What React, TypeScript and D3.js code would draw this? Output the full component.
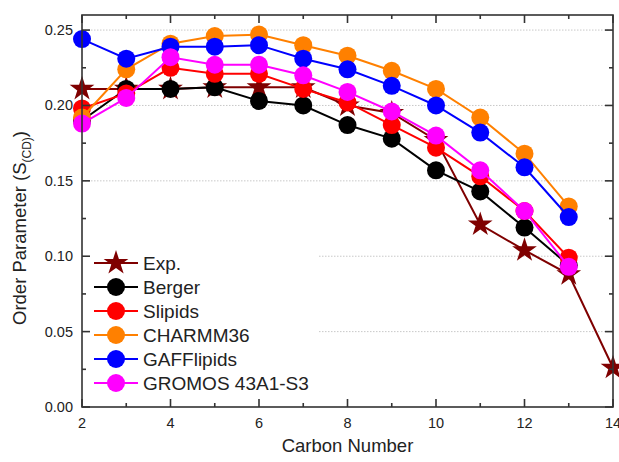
import React from "react";
import * as d3 from "d3";

const carbons = [2, 3, 4, 5, 6, 7, 8, 9, 10, 11, 12, 13, 14];
const carbonsSim = [2, 3, 4, 5, 6, 7, 8, 9, 10, 11, 12, 13];

const expValues = [0.211, 0.211, 0.211, 0.212, 0.212, 0.212, 0.200, 0.195, 0.177, 0.121, 0.104, 0.088, 0.026];
const bergerValues = [0.190, 0.211, 0.211, 0.212, 0.203, 0.200, 0.187, 0.178, 0.157, 0.143, 0.119, 0.094];
const slipidsValues = [0.198, 0.208, 0.225, 0.221, 0.221, 0.211, 0.202, 0.187, 0.172, 0.153, 0.130, 0.099];
const charmmValues = [0.192, 0.224, 0.241, 0.246, 0.247, 0.240, 0.233, 0.223, 0.211, 0.192, 0.168, 0.133];
const gaffValues = [0.244, 0.231, 0.239, 0.239, 0.240, 0.231, 0.224, 0.213, 0.200, 0.182, 0.159, 0.126];
const gromosValues = [0.188, 0.205, 0.232, 0.227, 0.227, 0.220, 0.209, 0.196, 0.180, 0.157, 0.130, 0.093];

const seriesNames = ["Exp.", "Berger", "Slipids", "CHARMM36", "GAFFlipids", "GROMOS 43A1-S3"];
const seriesColors = ["#7f0000", "#000000", "#ff0000", "#ff8000", "#0000ff", "#ff00ff"];

const xTicks = [2, 4, 6, 8, 10, 12, 14];
const xMinorTicks = [3, 5, 7, 9, 11, 13];
const yTicks = [0.0, 0.05, 0.1, 0.15, 0.2, 0.25];
const yMinorTicks = [0.025, 0.075, 0.125, 0.175, 0.225];

const W = 619;
const H = 462;
const L = 82, R = 613, T = 15, B = 407;

export default function App() {
  const x = d3.scaleLinear().domain([2, 14]).range([L, R]);
  const y = d3.scaleLinear().domain([0, 0.26]).range([B, T]);
  const line = d3.line<[number, number]>().x((d) => x(d[0])).y((d) => y(d[1]));
  const star = d3.symbol().type(d3.symbolStar).size(190)();

  const series = [
    { name: seriesNames[0], color: seriesColors[0], xs: carbons, vs: expValues, star: true },
    { name: seriesNames[1], color: seriesColors[1], xs: carbonsSim, vs: bergerValues, star: false },
    { name: seriesNames[2], color: seriesColors[2], xs: carbonsSim, vs: slipidsValues, star: false },
    { name: seriesNames[3], color: seriesColors[3], xs: carbonsSim, vs: charmmValues, star: false },
    { name: seriesNames[4], color: seriesColors[4], xs: carbonsSim, vs: gaffValues, star: false },
    { name: seriesNames[5], color: seriesColors[5], xs: carbonsSim, vs: gromosValues, star: false },
  ];

  const font = "Liberation Sans, Arial, sans-serif";
  const axisColor = "#333";

  return (
    <svg width={W} height={H} style={{ position: "absolute", left: 0, top: 0, background: "#fff" }} fontFamily={font}>
      <rect x={0} y={0} width={W} height={H} fill="#fff" />
      {/* grid */}
      {yTicks.filter((t) => t > 0).map((t) => (
        <line key={"g" + t} x1={L} x2={R} y1={y(t)} y2={y(t)} stroke="#c8c8c8" strokeWidth={1} strokeDasharray="1.5,1.5" />
      ))}
      {/* legend background */}
      <rect x={L + 1} y={248} width={235} height={150} fill="#fff" />
      {/* series */}
      {series.map((s) => {
        const pts = s.xs.map((c, i) => [c, s.vs[i]] as [number, number]);
        return (
          <g key={s.name}>
            <path d={line(pts) || ""} fill="none" stroke={s.color} strokeWidth={2} />
            {pts.map((p, i) =>
              s.star ? (
                <path key={i} d={star || ""} transform={`translate(${x(p[0])},${y(p[1])})`} fill={s.color} />
              ) : (
                <circle key={i} cx={x(p[0])} cy={y(p[1])} r={9} fill={s.color} />
              )
            )}
          </g>
        );
      })}
      {/* frame */}
      <rect x={L} y={T} width={R - L} height={B - T} fill="none" stroke={axisColor} strokeWidth={1.6} />
      {/* x ticks */}
      {xTicks.map((t) => (
        <g key={"xt" + t}>
          <line x1={x(t)} x2={x(t)} y1={B} y2={B - 8} stroke={axisColor} strokeWidth={1.6} />
          <line x1={x(t)} x2={x(t)} y1={T} y2={T + 8} stroke={axisColor} strokeWidth={1.6} />
          <text x={x(t)} y={428} textAnchor="middle" fontSize={14.5} fill="#222">{t}</text>
        </g>
      ))}
      {xMinorTicks.map((t) => (
        <g key={"xm" + t}>
          <line x1={x(t)} x2={x(t)} y1={B} y2={B - 4} stroke={axisColor} strokeWidth={1.6} />
          <line x1={x(t)} x2={x(t)} y1={T} y2={T + 4} stroke={axisColor} strokeWidth={1.6} />
        </g>
      ))}
      {/* y ticks */}
      {yTicks.map((t) => (
        <g key={"yt" + t}>
          <line x1={L} x2={L + 8} y1={y(t)} y2={y(t)} stroke={axisColor} strokeWidth={1.6} />
          <line x1={R} x2={R - 8} y1={y(t)} y2={y(t)} stroke={axisColor} strokeWidth={1.6} />
          <text x={73} y={y(t) + 5} textAnchor="end" fontSize={14.5} fill="#222">{t.toFixed(2)}</text>
        </g>
      ))}
      {yMinorTicks.map((t) => (
        <g key={"ym" + t}>
          <line x1={L} x2={L + 4} y1={y(t)} y2={y(t)} stroke={axisColor} strokeWidth={1.6} />
          <line x1={R} x2={R - 4} y1={y(t)} y2={y(t)} stroke={axisColor} strokeWidth={1.6} />
        </g>
      ))}
      {/* axis titles */}
      <text x={(L + R) / 2} y={452} textAnchor="middle" fontSize={18.5} fill="#222">Carbon Number</text>
      <text transform={`translate(26,228) rotate(-90)`} textAnchor="middle" fontSize={18.5} fill="#222">
        Order Parameter (S<tspan fontSize={12} dy={5}>(CD)</tspan><tspan dy={-5}>)</tspan>
      </text>
      {/* legend */}
      {series.map((s, i) => {
        const ly = 263 + i * 24;
        return (
          <g key={"lg" + s.name}>
            <line x1={94} x2={138} y1={ly} y2={ly} stroke={s.color} strokeWidth={2} />
            {s.star ? (
              <path d={star || ""} transform={`translate(116,${ly})`} fill={s.color} />
            ) : (
              <circle cx={116} cy={ly} r={9} fill={s.color} />
            )}
            <text x={143} y={ly + 6.5} fontSize={19} fill="#222">{s.name}</text>
          </g>
        );
      })}
    </svg>
  );
}
